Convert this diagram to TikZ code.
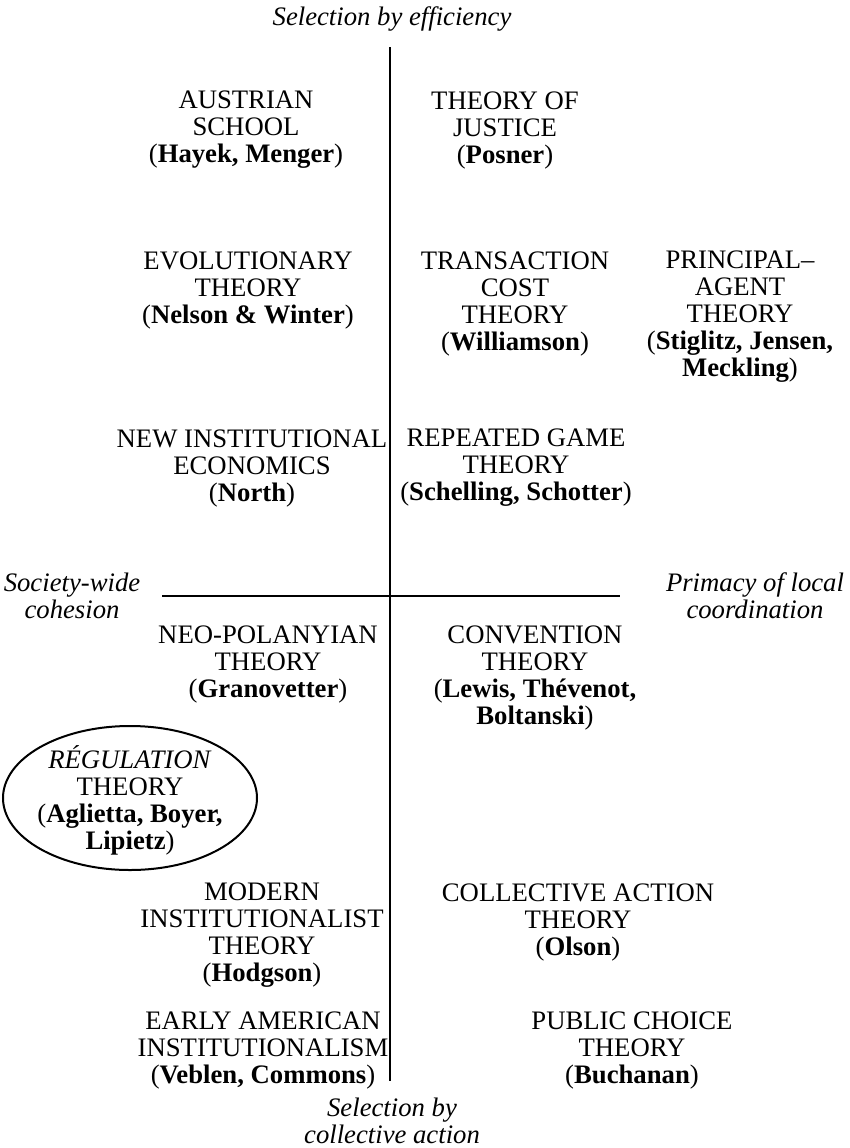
\documentclass[tikz,border=0pt]{standalone}
\usepackage{fontspec}
\setmainfont{Liberation Serif}
\usetikzlibrary{shapes.geometric}
\begin{document}
\begin{tikzpicture}[x=0.5pt,y=-0.5pt,
  every node/.style={inner sep=0pt,outer sep=0pt},
  school/.style={align=center,font=\fontsize{13.35}{13.5}\selectfont},
  axislabel/.style={align=center,font=\fontsize{13.35}{13.5}\selectfont\itshape},
  axisline/.style={line width=0.75pt},
  circled/.style={draw,ellipse,line width=1pt,minimum width=127pt,minimum height=72pt}]
\useasboundingbox (0,0) rectangle (850,1148);

% axes
\coordinate (ntop) at (390,47);
\coordinate (nbot) at (390,1081);
\coordinate (wend) at (162,596);
\coordinate (eend) at (620,596);
\draw[axisline] (ntop) -- (nbot);
\draw[axisline] (wend) -- (eend);

% axis labels
\node[axislabel] (top) at (392,19) {Selection by efficiency};
\node[axislabel] (bot) at (392,1121) {Selection by\\collective action};
\node[axislabel] (west) at (72,596) {Society-wide\\cohesion};
\node[axislabel] (east) at (755,596) {Primacy of local\\coordination};

% upper left
\node[school] (aus) at (246,130) {AUSTRIAN\\SCHOOL\\(\textbf{Hayek, Menger})};
\node[school] (evol) at (248,290) {EVOLUTIONARY\\THEORY\\(\textbf{Nelson \& Winter})};
\node[school] (nie) at (252,468) {NEW INSTITUTIONAL\\ECONOMICS\\(\textbf{North})};

% upper right
\node[school] (just) at (505,130) {THEORY OF\\JUSTICE\\(\textbf{Posner})};
\node[school] (tc) at (515,303.5) {TRANSACTION\\COST\\THEORY\\(\textbf{Williamson})};
\node[school] (pa) at (740,317) {PRINCIPAL--\\AGENT\\THEORY\\(\textbf{Stiglitz, Jensen,}\\\textbf{Meckling})};
\node[school] (rg) at (516,468) {REPEATED GAME\\THEORY\\(\textbf{Schelling, Schotter})};

% lower left
\node[school] (np) at (268,664) {NEO-POLANYIAN\\THEORY\\(\textbf{Granovetter})};
\node[school] (regtext) at (130,800) {\textit{RÉGULATION}\\THEORY\\(\textbf{Aglietta, Boyer,}\\\textbf{Lipietz})};
\node[circled] (reg) at (130,798) {};
\node[school] (mit) at (262,935) {MODERN\\INSTITUTIONALIST\\THEORY\\(\textbf{Hodgson})};
\node[school] (eai) at (263,1050) {EARLY AMERICAN\\INSTITUTIONALISM\\(\textbf{Veblen, Commons})};

% lower right
\node[school] (conv) at (535,677.5) {CONVENTION\\THEORY\\(\textbf{Lewis, Thévenot,}\\\textbf{Boltanski})};
\node[school] (ca) at (578,922) {COLLECTIVE ACTION\\THEORY\\(\textbf{Olson})};
\node[school] (pc) at (632,1050) {PUBLIC CHOICE\\THEORY\\(\textbf{Buchanan})};
\end{tikzpicture}
\end{document}
